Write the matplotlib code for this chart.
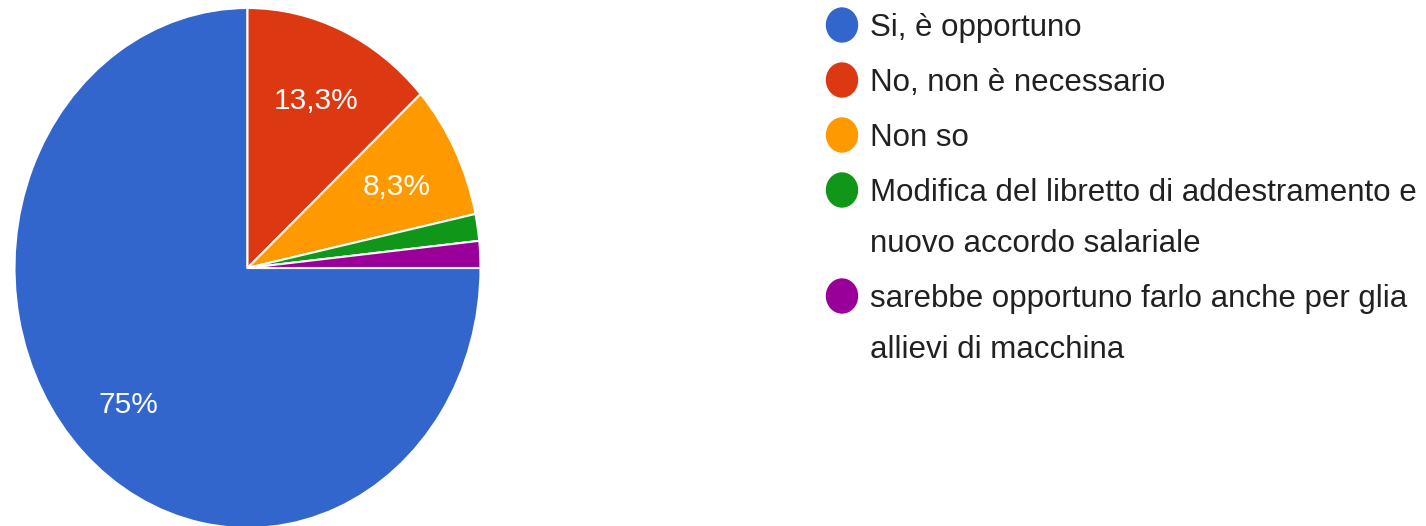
import matplotlib.pyplot as plt
from matplotlib.patches import Ellipse
from matplotlib.transforms import offset_copy

labels = ['Si, è opportuno',
          'No, non è necessario',
          'Non so',
          'Modifica del libretto di addestramento e\nnuovo accordo salariale',
          'sarebbe opportuno farlo anche per glia\nallievi di macchina']
counts = [45, 8, 5, 1, 1]
colors = ['#3366CC', '#DC3912', '#FF9900', '#109618', '#990099']

plt.rcParams['font.family'] = ['Liberation Sans', 'DejaVu Sans']

W, H = 1426, 526
fig = plt.figure(figsize=(W / 100, H / 100), dpi=100)

def fmt_pct(p):
    if p < 5:
        return ''
    s = ('%.1f' % p).rstrip('0').rstrip('.')
    return s.replace('.', ',') + '%'

# pie (stretched vertically like the screenshot)
ax = fig.add_axes([14.5 / W, -2 / H, 466 / W, 520 / H])
wedges, texts, autotexts = ax.pie(
    counts, colors=colors, startangle=0, counterclock=False,
    autopct=fmt_pct, pctdistance=0.72, radius=1,
    wedgeprops=dict(edgecolor='white', linewidth=1.5),
    textprops=dict(color='white', fontsize=21.5))
# nudge the % labels down a few px
for t in autotexts:
    t.set_transform(offset_copy(ax.transData, fig=fig, x=0, y=-3, units='points'))
ax.set_aspect('auto')
ax.set_xlim(-1, 1)
ax.set_ylim(-1, 1)
ax.axis('off')

# legend drawn in pixel coords
lg = fig.add_axes([0, 0, 1, 1])
lg.set_xlim(0, W)
lg.set_ylim(H, 0)
lg.axis('off')
y = 25
for lab, c in zip(labels, colors):
    lg.add_patch(Ellipse((842, y), 31, 34, color=c))
    for i, line in enumerate(lab.split('\n')):
        lg.text(870, y + 11 + i * 51, line, fontsize=22.5, color='#212121',
                va='baseline', ha='left')
    y += 55 + 51 * lab.count('\n')

fig.savefig('out.png', dpi=100)
